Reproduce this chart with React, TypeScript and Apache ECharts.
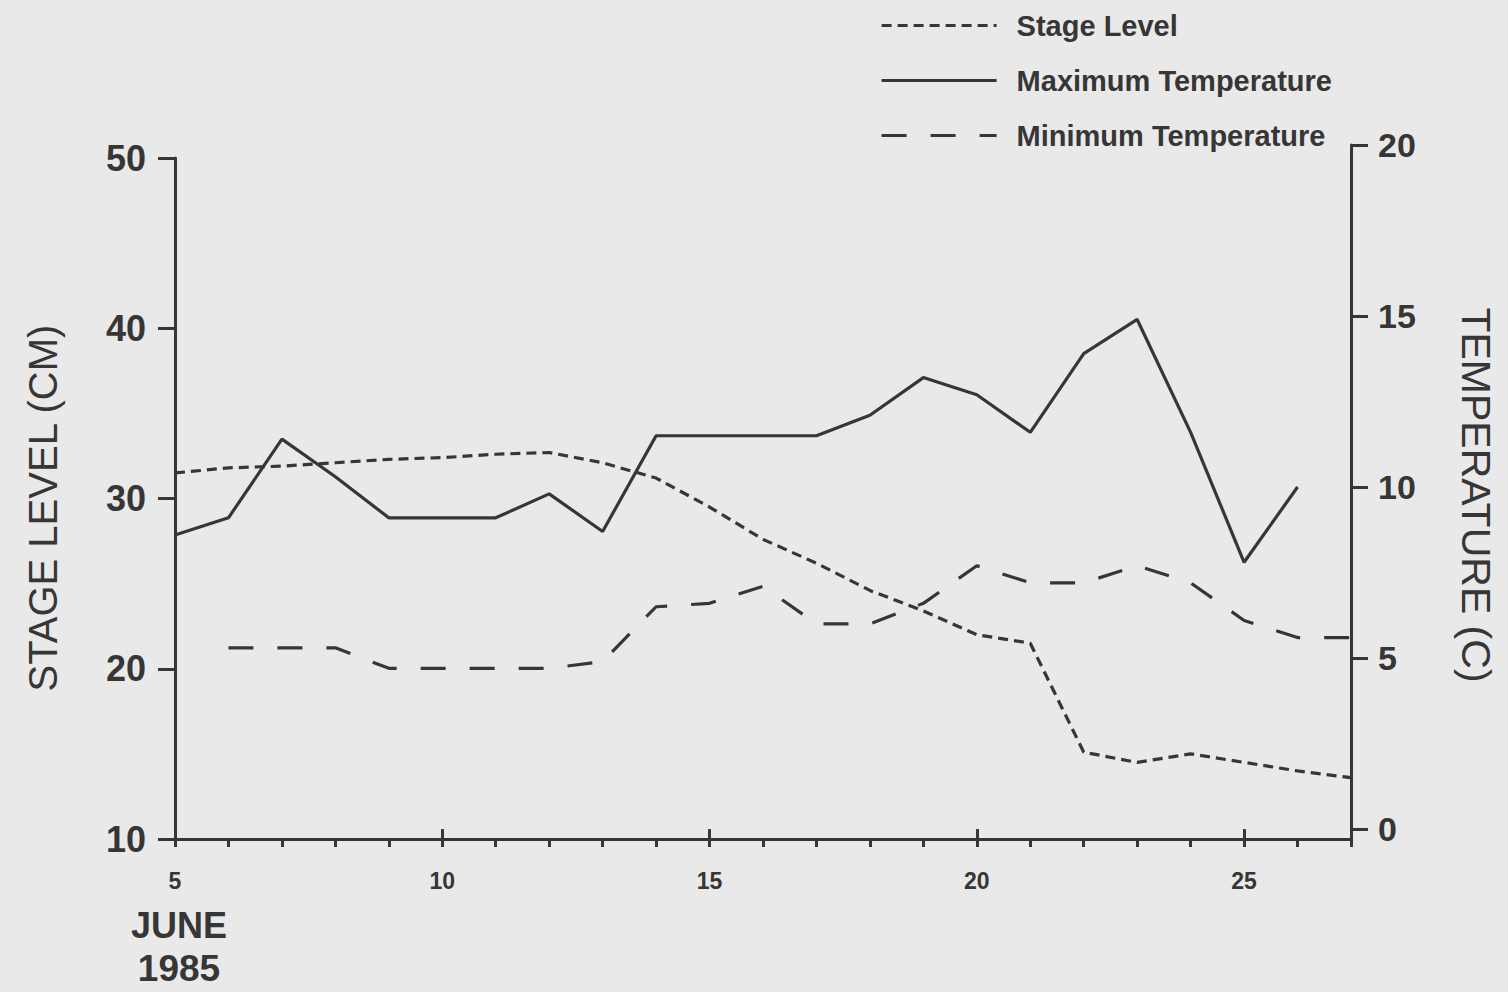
import React, { useEffect, useRef } from "react";
import * as echarts from "echarts";

const days = [5, 6, 7, 8, 9, 10, 11, 12, 13, 14, 15, 16, 17, 18, 19, 20, 21, 22, 23, 24, 25, 26, 27];
const stageLevel = [31.5, 31.8, 31.9, 32.1, 32.3, 32.4, 32.6, 32.7, 32.1, 31.2, 29.5, 27.6, 26.2, 24.6, 23.4, 22.0, 21.5, 15.1, 14.5, 15.0, 14.5, 14.0, 13.6];
const maxTemp = [8.6, 9.1, 11.4, 10.3, 9.1, 9.1, 9.1, 9.8, 8.7, 11.5, 11.5, 11.5, 11.5, 12.1, 13.2, 12.7, 11.6, 13.9, 14.9, 11.6, 7.8, 10.0, null];
const minTemp = [null, 5.3, 5.3, 5.3, 4.7, 4.7, 4.7, 4.7, 4.9, 6.5, 6.6, 7.1, 6.0, 6.0, 6.6, 7.7, 7.2, 7.2, 7.7, 7.2, 6.1, 5.6, 5.6];

const xMajorTicks = [5, 10, 15, 20, 25];
const leftTicks = [10, 20, 30, 40, 50];
const rightTicks = [0, 5, 10, 15, 20];

const seriesNames = ["Stage Level", "Maximum Temperature", "Minimum Temperature"];

const INK = "#363636";
const FONT = "Liberation Sans";

function pairs(vals: (number | null)[]) {
  const out: [number, number][] = [];
  days.forEach((d, i) => {
    const v = vals[i];
    if (v !== null && v !== undefined) out.push([d, v]);
  });
  return out;
}

export default function App() {
  const ref = useRef<HTMLDivElement>(null);
  useEffect(() => {
    if (!ref.current) return;
    const chart = echarts.init(ref.current, null, { renderer: "svg" });
    const axisLine = { show: true, lineStyle: { color: INK, width: 3 } };
    chart.setOption({
      animation: false,
      backgroundColor: "#e9e9e9",
      legend: {
        orient: "vertical",
        left: 880,
        top: 11,
        padding: 0,
        itemWidth: 115,
        itemHeight: 28,
        itemGap: 26,
        data: seriesNames,
        itemStyle: { opacity: 0 },
        lineStyle: { width: 3.2 },
        textStyle: {
          fontFamily: FONT,
          fontWeight: "bold",
          fontSize: 29,
          color: INK,
          padding: [0, 0, 0, 15],
        },
      },
      grid: [
        { left: 175, right: 157, top: 158, height: 681 },
        { left: 175, right: 157, top: 145, height: 694 },
      ],
      xAxis: [
        {
          type: "value",
          gridIndex: 0,
          min: 5,
          max: 27,
          axisLine,
          splitLine: { show: false },
          axisTick: { show: true, length: 8, customValues: days, lineStyle: { color: INK, width: 3 } },
          axisLabel: {
            customValues: xMajorTicks,
            margin: 30,
            fontFamily: FONT,
            fontWeight: "bold",
            fontSize: 23,
            color: INK,
          },
        },
        {
          type: "value",
          gridIndex: 1,
          min: 5,
          max: 27,
          axisLine: { show: false },
          splitLine: { show: false },
          axisTick: { show: true, length: 15, customValues: xMajorTicks, lineStyle: { color: INK, width: 3 } },
          axisLabel: { show: false },
        },
      ],
      yAxis: [
        {
          type: "value",
          gridIndex: 0,
          position: "left",
          min: 10,
          max: 50,
          interval: 10,
          axisLine,
          splitLine: { show: false },
          axisTick: { show: true, length: 17, customValues: leftTicks, lineStyle: { color: INK, width: 3 } },
          axisLabel: {
            customValues: leftTicks,
            margin: 29,
            fontFamily: FONT,
            fontWeight: "bold",
            fontSize: 36,
            color: INK,
          },
        },
        {
          type: "value",
          gridIndex: 1,
          position: "right",
          min: -0.29,
          max: 20,
          axisLine,
          splitLine: { show: false },
          axisTick: { show: true, length: 17, customValues: rightTicks, lineStyle: { color: INK, width: 3 } },
          axisLabel: {
            customValues: rightTicks,
            margin: 27,
            fontFamily: FONT,
            fontWeight: "bold",
            fontSize: 34,
            color: INK,
          },
        },
      ],
      graphic: [
        {
          type: "text",
          x: 43,
          y: 508,
          rotation: Math.PI / 2,
          style: {
            text: "STAGE LEVEL (CM)",
            fontFamily: FONT,
            fontSize: 40,
            fill: INK,
            align: "center",
            verticalAlign: "middle",
          },
        },
        {
          type: "text",
          x: 1476,
          y: 495,
          rotation: -Math.PI / 2,
          style: {
            text: "TEMPERATURE (C)",
            fontFamily: FONT,
            fontSize: 41,
            fill: INK,
            align: "center",
            verticalAlign: "middle",
          },
        },
        {
          type: "text",
          x: 179,
          y: 925,
          style: {
            text: "JUNE",
            fontFamily: FONT,
            fontWeight: "bold",
            fontSize: 36,
            fill: INK,
            align: "center",
            verticalAlign: "middle",
          },
        },
        {
          type: "text",
          x: 179,
          y: 968,
          style: {
            text: "1985",
            fontFamily: FONT,
            fontWeight: "bold",
            fontSize: 37,
            fill: INK,
            align: "center",
            verticalAlign: "middle",
          },
        },
      ],
      series: [
        {
          name: seriesNames[0],
          type: "line",
          xAxisIndex: 0,
          yAxisIndex: 0,
          data: pairs(stageLevel),
          symbol: "none",
          lineStyle: { color: INK, width: 3.2, type: [10, 6] },
          itemStyle: { color: INK },
        },
        {
          name: seriesNames[1],
          type: "line",
          xAxisIndex: 1,
          yAxisIndex: 1,
          data: pairs(maxTemp),
          symbol: "none",
          lineStyle: { color: INK, width: 3.2, type: "solid" },
          itemStyle: { color: INK },
        },
        {
          name: seriesNames[2],
          type: "line",
          xAxisIndex: 1,
          yAxisIndex: 1,
          data: pairs(minTemp),
          symbol: "none",
          lineStyle: { color: INK, width: 3.2, type: [25, 24] },
          itemStyle: { color: INK },
        },
      ],
    });
    return () => chart.dispose();
  }, []);
  return (
    <div
      ref={ref}
      style={{ position: "fixed", left: 0, top: 0, width: 1508, height: 992 }}
    />
  );
}
